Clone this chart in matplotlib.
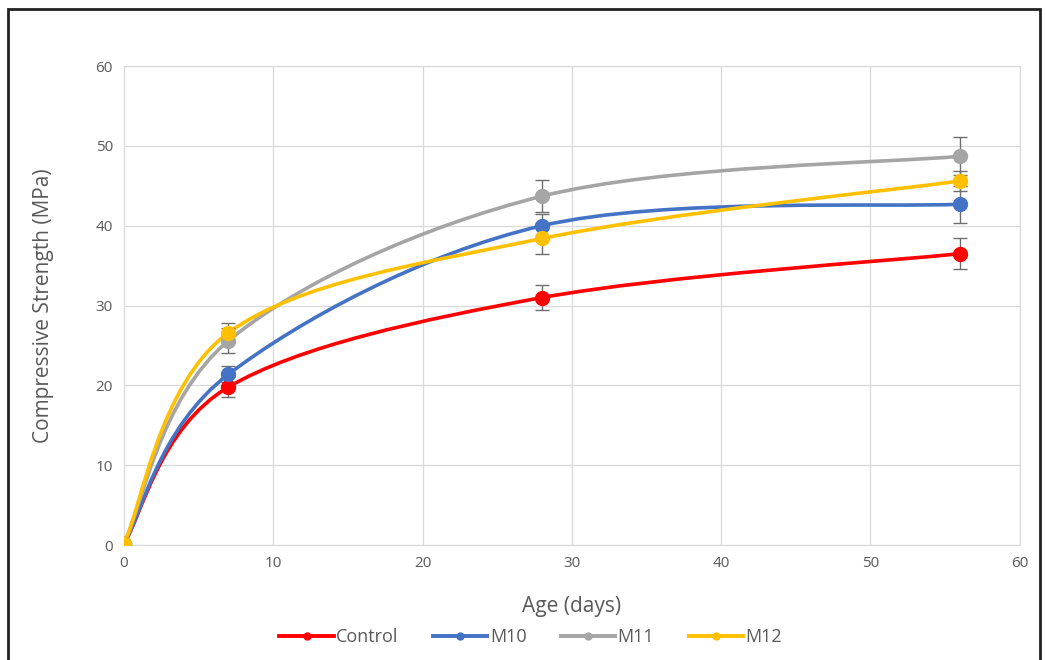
import numpy as np
import matplotlib
matplotlib.use("Agg")
import matplotlib.pyplot as plt
from matplotlib.patches import Rectangle
from matplotlib.path import Path
from matplotlib.patches import PathPatch

plt.rcParams["font.family"] = ["Open Sans", "DejaVu Sans"]

# Curing age and strength results
age = [0, 7, 28, 56]
series = ["Control", "M10", "M11", "M12"]
strength = {
    "Control": [0.2, 19.8, 31.0, 36.5],
    "M10": [0.2, 21.4, 40.0, 42.7],
    "M11": [0.2, 25.6, 43.7, 48.7],
    "M12": [0.2, 26.6, 38.4, 45.6],
}
std_dev = {
    "Control": [0.0, 1.2, 1.6, 1.9],
    "M10": [0.0, 1.0, 1.5, 2.3],
    "M11": [0.0, 1.6, 2.0, 2.4],
    "M12": [0.0, 1.2, 2.0, 1.2],
}
colors = {"Control": "#FF0000", "M10": "#4472C4", "M11": "#A5A5A5", "M12": "#FFC000"}


def smooth_path(x, y):
    # Catmull-Rom style cubic Bezier through the points (spreadsheet "smoothed line")
    pts = np.column_stack([x, y]).astype(float)
    verts = [pts[0]]
    codes = [Path.MOVETO]
    n = len(pts)
    for i in range(n - 1):
        p0 = pts[i - 1] if i > 0 else pts[i]
        p1 = pts[i]
        p2 = pts[i + 1]
        p3 = pts[i + 2] if i + 2 < n else pts[i + 1]
        c1 = p1 + (p2 - p0) / 6.0
        c2 = p2 - (p3 - p1) / 6.0
        verts += [c1, c2, p2]
        codes += [Path.CURVE4] * 3
    return Path(verts, codes)


fig = plt.figure(figsize=(10.47, 6.6), dpi=100)
ax = fig.add_axes([0.1184, 0.174, 0.8556, 0.726])

for name in series:
    c = colors[name]
    ax.add_patch(PathPatch(smooth_path(age, strength[name]), fill=False,
                           edgecolor=c, lw=2.6, capstyle="round", zorder=3))
    ax.errorbar(age, strength[name], yerr=std_dev[name], fmt="none",
                ecolor="#6E6E6E", elinewidth=1.0, capsize=5, capthick=1.0, zorder=4)
    ax.plot(age, strength[name], "o", color=c, ms=10, zorder=5)
    ax.plot([], [], "-o", color=c, lw=2.8, ms=5, label=name)

ax.set_xlim(0, 60)
ax.set_ylim(0, 60)
ax.set_xticks(range(0, 61, 10))
ax.set_yticks(range(0, 61, 10))
ax.grid(True, color="#D9D9D9", lw=0.9)
ax.set_axisbelow(True)
for s in ax.spines.values():
    s.set_color("#D9D9D9")
ax.tick_params(length=0, labelsize=11, colors="#595959", pad=8)
ax.set_xlabel("Age (days)", fontsize=15, color="#595959", labelpad=18)
ax.set_ylabel("Compressive Strength (MPa)", fontsize=15, color="#595959", labelpad=30)

leg = fig.legend(loc="center", bbox_to_anchor=(0.507, 0.035), ncol=4, frameon=False,
                 fontsize=13, handlelength=3.0, columnspacing=1.9, handletextpad=0.15)
for t in leg.get_texts():
    t.set_color("#595959")

# Outer chart frame
fig.patches.append(Rectangle((0.008, -0.01), 0.985, 0.997, transform=fig.transFigure,
                             fill=False, edgecolor="#222222", lw=2))

fig.savefig("out.png", dpi=100)
